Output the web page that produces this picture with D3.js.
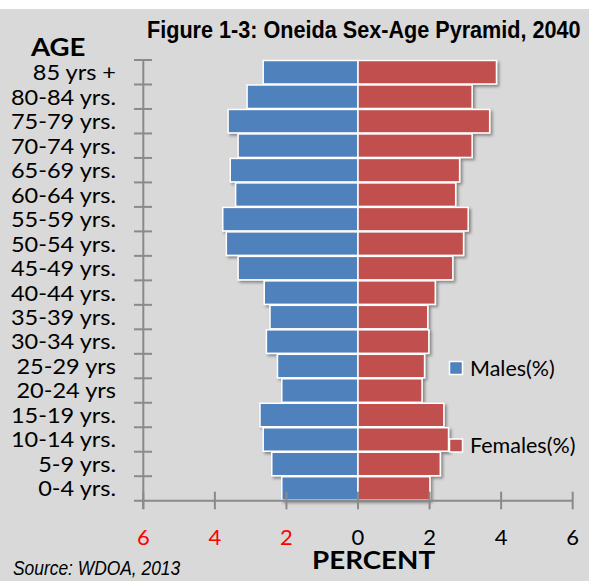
<!DOCTYPE html>
<html><head><meta charset="utf-8">
<script src="https://cdn.jsdelivr.net/npm/d3@7"></script>
<style>
html,body{margin:0;padding:0;background:#fff;}
svg{display:block;}
</style></head>
<body>
<svg id="chart" width="589" height="581"></svg>
<script>
const ageGroups = ["85 yrs +","80-84 yrs.","75-79 yrs.","70-74 yrs.","65-69 yrs.","60-64 yrs.","55-59 yrs.","50-54 yrs.","45-49 yrs.","40-44 yrs.","35-39 yrs.","30-34 yrs.","25-29 yrs","20-24 yrs","15-19 yrs.","10-14 yrs.","5-9 yrs.","0-4 yrs."];
const males   = [2.65,3.10,3.63,3.35,3.57,3.42,3.78,3.68,3.35,2.62,2.46,2.56,2.25,2.13,2.74,2.65,2.41,2.13];
const females = [3.87,3.19,3.68,3.19,2.84,2.73,3.08,2.95,2.65,2.16,1.95,1.98,1.86,1.79,2.40,2.53,2.30,2.01];
const xTicks = [-6,-4,-2,0,2,4,6];
const seriesNames = ["Males(%)","Females(%)"];
const seriesColors = ["#4f81bd","#c0504d"];

const svg = d3.select("#chart");
svg.append("rect").attr("x",0).attr("y",9).attr("width",589).attr("height",572).attr("fill","#d9d9d9");

const defs = svg.append("defs");
const f = defs.append("filter").attr("id","shadow").attr("x","-10%").attr("y","-20%").attr("width","130%").attr("height","160%");
f.append("feDropShadow").attr("dx",2).attr("dy",2).attr("stdDeviation",1.5).attr("flood-color","#000").attr("flood-opacity",0.4);

const x = d3.scaleLinear().domain([-6,6]).range([143.3,572.7]);
const y = d3.scaleBand().domain(ageGroups).range([60,500.7]).paddingInner(0.04).paddingOuter(0.02);
const yb = d3.scaleBand().domain(ageGroups).range([60,500.7]);

// bars
const g = svg.append("g").attr("filter","url(#shadow)");
g.selectAll("rect.m").data(ageGroups).join("rect")
  .attr("x",(d,i)=>x(-males[i])).attr("width",(d,i)=>x(0)-x(-males[i]))
  .attr("y",d=>y(d)).attr("height",y.bandwidth())
  .attr("fill",seriesColors[0]).attr("stroke","#fff").attr("stroke-width",1.5);
g.selectAll("rect.f").data(ageGroups).join("rect")
  .attr("x",x(0)).attr("width",(d,i)=>x(females[i])-x(0))
  .attr("y",d=>y(d)).attr("height",y.bandwidth())
  .attr("fill",seriesColors[1]).attr("stroke","#fff").attr("stroke-width",1.5);

const axisColor = "#8a8a8a";
// y axis
const ya = svg.append("g");
ya.append("line").attr("x1",x(-6)).attr("x2",x(-6)).attr("y1",60).attr("y2",509).attr("stroke",axisColor).attr("stroke-width",2);
const bounds = ageGroups.map(d=>yb(d));
ya.selectAll("line.t").data(bounds).join("line")
  .attr("x1",134).attr("x2",152).attr("y1",d=>d).attr("y2",d=>d)
  .attr("stroke",axisColor).attr("stroke-width",2);
ya.selectAll("text").data(ageGroups).join("text")
  .attr("transform",d=>`translate(116,${yb(d)+yb.bandwidth()/2}) scale(1.07,1)`).attr("dy","0.36em")
  .attr("text-anchor","end").attr("font-family","Lato, 'Open Sans', sans-serif")
  .attr("font-size",22).attr("fill","#000").text(d=>d);

// x axis
const xa = svg.append("g");
xa.append("line").attr("x1",134).attr("x2",x(6)).attr("y1",500.7).attr("y2",500.7).attr("stroke",axisColor).attr("stroke-width",2);
xa.selectAll("line.t").data(xTicks).join("line")
  .attr("x1",d=>x(d)).attr("x2",d=>x(d)).attr("y1",491.7).attr("y2",509.3)
  .attr("stroke",axisColor).attr("stroke-width",2);
xa.selectAll("text").data(xTicks).join("text")
  .attr("x",d=>x(d)).attr("y",545).attr("text-anchor","middle")
  .attr("font-family","Lato, 'Open Sans', sans-serif").attr("font-size",22)
  .attr("fill",d=>d<0?"#ff0000":"#000").text(d=>Math.abs(d));

// titles
svg.append("text").attr("transform","translate(147,38) scale(0.94,1)")
  .attr("font-family","'Liberation Sans','Arial',sans-serif").attr("font-weight","bold")
  .attr("font-size",23).attr("fill","#000").text("Figure 1-3: Oneida Sex-Age Pyramid, 2040");
svg.append("text").attr("transform","translate(31,56) scale(1.15,1)")
  .attr("font-family","Lato, sans-serif").attr("font-weight","bold").attr("font-size",24)
  .text("AGE");
svg.append("text").attr("transform","translate(312,568.5) scale(1.11,1)")
  .attr("font-family","Lato, sans-serif").attr("font-weight","bold").attr("font-size",25)
  .text("PERCENT");
svg.append("text").attr("transform","translate(13,575) scale(0.87,1)")
  .attr("font-family","'Liberation Sans','Arial',sans-serif").attr("font-style","italic")
  .attr("font-size",20).text("Source: WDOA, 2013");

// legend
const legY = [368,445.5];
const leg = svg.append("g");
seriesNames.forEach((s,i)=>{
  leg.append("rect").attr("x",449.5).attr("y",legY[i]-6.5).attr("width",13).attr("height",13)
    .attr("fill",seriesColors[i]).attr("stroke","#fff").attr("stroke-width",1.5);
  leg.append("text").attr("x",470).attr("y",legY[i]).attr("dy","0.36em")
    .attr("font-family","Lato, sans-serif").attr("font-size",21.5).text(s);
});
</script>
</body></html>
